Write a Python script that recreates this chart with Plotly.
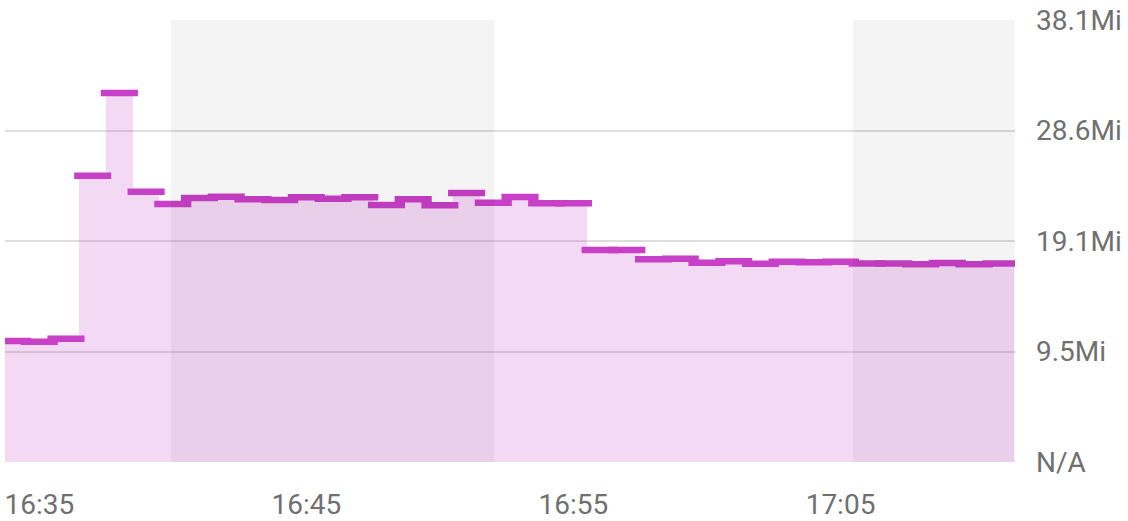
import plotly.graph_objects as go

DAY = "2024-01-01 "

minutes = ["16:34", "16:35", "16:36", "16:37", "16:38", "16:39", "16:40", "16:41",
           "16:42", "16:43", "16:44", "16:45", "16:46", "16:47", "16:48", "16:49",
           "16:50", "16:51", "16:52", "16:53", "16:54", "16:55", "16:56", "16:57",
           "16:58", "16:59", "17:00", "17:01", "17:02", "17:03", "17:04", "17:05",
           "17:06", "17:07", "17:08", "17:09", "17:10", "17:11"]

memory_mi = [10.44, 10.38, 10.64, 24.71, 31.85, 23.33, 22.27, 22.78,
             22.90, 22.67, 22.61, 22.84, 22.73, 22.84, 22.18, 22.67,
             22.15, 23.22, 22.38, 22.87, 22.33, 22.33, 18.30, 18.30,
             17.49, 17.55, 17.20, 17.32, 17.11, 17.29, 17.23, 17.29,
             17.14, 17.14, 17.06, 17.17, 17.06, 17.14]

x_tick_labels = ["16:35", "16:45", "16:55", "17:05"]
y_tick_vals = [0, 9.537, 19.073, 28.610, 38.147]
y_tick_labels = ["N/A", "9.5Mi", "19.1Mi", "28.6Mi", "38.1Mi"]

bands = [("16:39:56", "16:52:02"), ("17:05:28", "17:11:32")]
x_range = ("16:33:43", "17:11:32")

xs = [DAY + m for m in minutes]

fig = go.Figure()
fig.add_trace(go.Bar(
    x=xs, y=memory_mi, width=60000,
    marker=dict(color="rgba(200,64,200,0.2)", line=dict(width=0)),
    hoverinfo="skip", showlegend=False,
))
fig.add_trace(go.Scatter(
    x=xs, y=memory_mi, mode="markers",
    marker=dict(symbol="line-ew", size=26.5,
                line=dict(color="#c83fc8", width=6.5)),
    showlegend=False,
))

for a, b in bands:
    fig.add_shape(type="rect", xref="x", yref="paper",
                  x0=DAY + a, x1=DAY + b, y0=0, y1=1,
                  fillcolor="rgba(0,0,0,0.045)", line=dict(width=0),
                  layer="above")

font = dict(family="Roboto, 'Liberation Sans', sans-serif", size=28, color="#707070")

fig.update_layout(
    width=1128, height=521,
    margin=dict(l=5, r=113, t=20, b=59),
    paper_bgcolor="white", plot_bgcolor="white",
    bargap=0,
    font=font,
    xaxis=dict(
        type="date",
        range=[DAY + x_range[0], DAY + x_range[1]],
        tickvals=[DAY + t for t in x_tick_labels],
        ticktext=x_tick_labels,
        showgrid=False, zeroline=False, showline=False,
        ticks="", ticklabelstandoff=23,
        automargin=False,
        tickfont=font,
    ),
    yaxis=dict(
        side="right",
        range=[0, 38.147],
        tickvals=y_tick_vals,
        ticktext=y_tick_labels,
        showgrid=True, gridcolor="#dedede", gridwidth=2,
        zeroline=False, showline=False,
        ticks="", ticklabelstandoff=20,
        automargin=False,
        tickfont=font,
    ),
)

fig.write_html(
    "out.html",
    config={"displayModeBar": False},
    post_script="document.body.style.margin='0';document.body.style.overflow='hidden';",
)
